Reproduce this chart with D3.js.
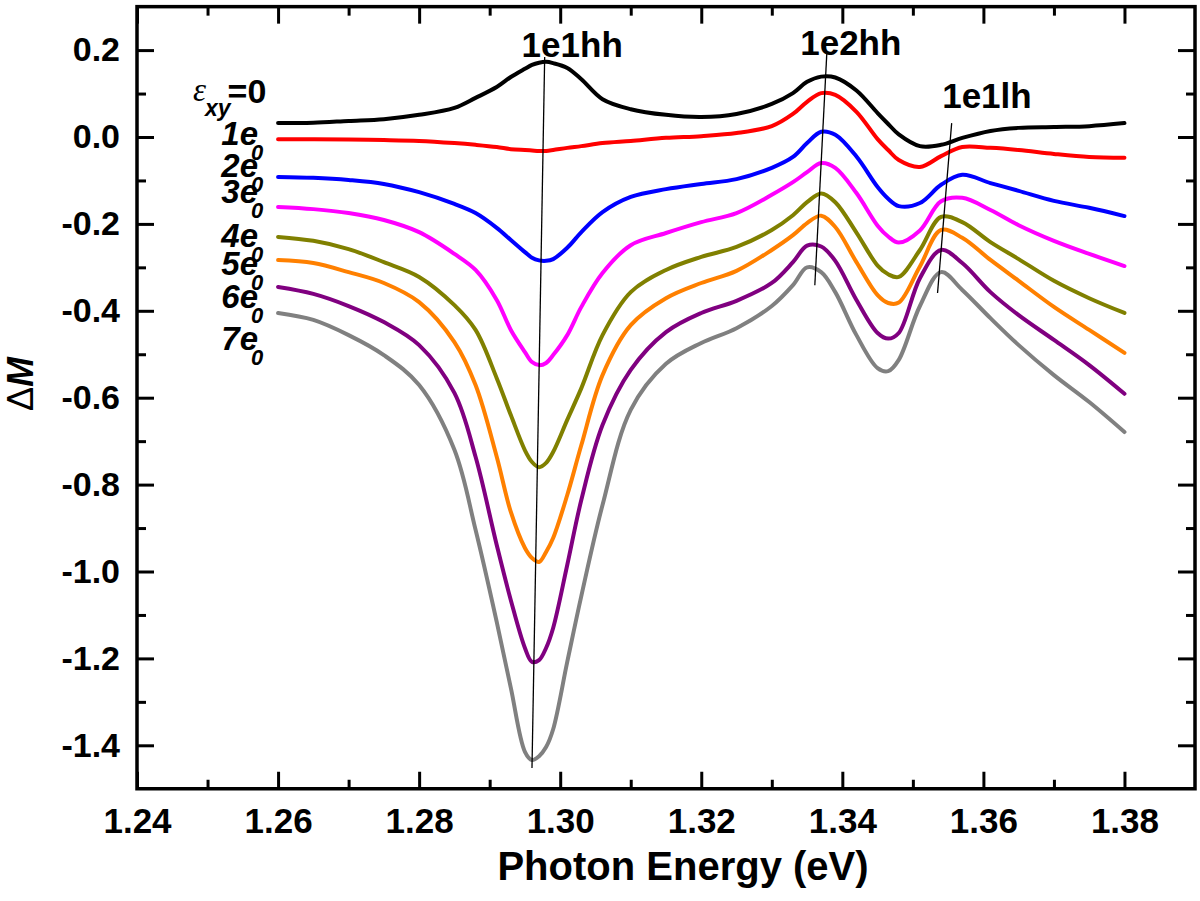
<!DOCTYPE html>
<html><head><meta charset="utf-8">
<script src="https://cdn.jsdelivr.net/npm/d3@7"></script>
<style>
body{margin:0;background:#fff}
svg{display:block}
text{font-family:"Liberation Sans",Arial,sans-serif;font-weight:bold;fill:#000}
</style></head><body>
<svg id="chart" width="1200" height="901"></svg>
<script>
// ---- data ----
const energy = [1.26,1.265,1.27,1.275,1.28,1.285,1.288,1.291,1.293,1.295,1.296,1.297,1.298,1.299,1.301,1.303,1.306,1.31,1.315,1.32,1.325,1.33,1.333,1.335,1.337,1.339,1.342,1.345,1.3465,1.348,1.351,1.354,1.357,1.361,1.365,1.37,1.375,1.38];
const dM_strain0 = [0.032,0.033,0.037,0.041,0.051,0.067,0.090,0.115,0.138,0.157,0.166,0.171,0.173,0.170,0.159,0.133,0.087,0.064,0.051,0.046,0.053,0.076,0.101,0.127,0.139,0.137,0.107,0.055,0.030,0.006,-0.021,-0.018,-0.002,0.014,0.021,0.023,0.025,0.032];
const dM_strain1 = [-0.005,-0.005,-0.006,-0.007,-0.009,-0.014,-0.018,-0.023,-0.028,-0.030,-0.031,-0.032,-0.032,-0.030,-0.025,-0.021,-0.014,-0.009,-0.002,0.002,0.009,0.025,0.053,0.081,0.101,0.097,0.058,-0.005,-0.030,-0.053,-0.069,-0.044,-0.023,-0.025,-0.030,-0.039,-0.046,-0.048];
const dM_strain2 = [-0.092,-0.094,-0.099,-0.108,-0.127,-0.154,-0.175,-0.209,-0.237,-0.265,-0.278,-0.284,-0.285,-0.281,-0.255,-0.219,-0.173,-0.138,-0.120,-0.108,-0.097,-0.071,-0.046,-0.014,0.012,0.005,-0.045,-0.115,-0.142,-0.159,-0.152,-0.110,-0.087,-0.106,-0.124,-0.147,-0.163,-0.182];
const dM_strain3 = [-0.161,-0.166,-0.175,-0.191,-0.219,-0.269,-0.306,-0.375,-0.444,-0.495,-0.518,-0.525,-0.520,-0.502,-0.456,-0.391,-0.313,-0.249,-0.221,-0.196,-0.175,-0.133,-0.104,-0.081,-0.060,-0.071,-0.129,-0.204,-0.229,-0.243,-0.215,-0.148,-0.140,-0.168,-0.203,-0.239,-0.269,-0.297];
const dM_strain4 = [-0.230,-0.239,-0.258,-0.288,-0.322,-0.387,-0.444,-0.555,-0.640,-0.721,-0.748,-0.760,-0.750,-0.725,-0.651,-0.578,-0.456,-0.357,-0.306,-0.276,-0.253,-0.214,-0.180,-0.150,-0.130,-0.150,-0.220,-0.296,-0.316,-0.322,-0.260,-0.184,-0.196,-0.242,-0.281,-0.331,-0.371,-0.405];
const dM_strain5 = [-0.283,-0.290,-0.311,-0.336,-0.380,-0.472,-0.571,-0.736,-0.863,-0.946,-0.969,-0.978,-0.955,-0.923,-0.824,-0.709,-0.548,-0.433,-0.371,-0.336,-0.308,-0.260,-0.226,-0.198,-0.181,-0.207,-0.288,-0.364,-0.382,-0.381,-0.298,-0.214,-0.232,-0.283,-0.331,-0.391,-0.444,-0.497];
const dM_strain6 = [-0.345,-0.361,-0.389,-0.426,-0.479,-0.589,-0.736,-0.939,-1.066,-1.176,-1.208,-1.204,-1.176,-1.130,-0.985,-0.835,-0.663,-0.536,-0.449,-0.405,-0.377,-0.336,-0.288,-0.250,-0.252,-0.285,-0.375,-0.451,-0.464,-0.451,-0.325,-0.260,-0.290,-0.357,-0.410,-0.467,-0.525,-0.591];
const dM_strain7 = [-0.405,-0.421,-0.456,-0.502,-0.571,-0.720,-0.904,-1.116,-1.268,-1.415,-1.434,-1.425,-1.404,-1.363,-1.208,-1.056,-0.847,-0.628,-0.522,-0.474,-0.440,-0.389,-0.341,-0.300,-0.311,-0.357,-0.456,-0.532,-0.539,-0.513,-0.389,-0.311,-0.352,-0.417,-0.479,-0.548,-0.610,-0.679];
const strainLevels = ["0","1","2","3","4","5","6","7"];
const seriesColors = ["#000000","#ff0000","#0000ff","#ff00ff","#808000","#ff8000","#800080","#808080"];
const xTickValues = [1.24,1.26,1.28,1.30,1.32,1.34,1.36,1.38];
const xMinorValues = [1.25,1.27,1.29,1.31,1.33,1.35,1.37];
const yTickValues = [-1.4,-1.2,-1.0,-0.8,-0.6,-0.4,-0.2,0.0,0.2];
const yMinorValues = [-1.3,-1.1,-0.9,-0.7,-0.5,-0.3,-0.1,0.1];
const transitionNames = ["1e1hh","1e2hh","1e1lh"];
const transitionTop = [[1.2978,0.184],[1.3378,0.193],[1.3555,0.032]];
const transitionBottom = [[1.2960,-1.452],[1.3361,-0.341],[1.3535,-0.359]];
const transitionLabelAt = [[1.3017,0.184],[1.3412,0.189],[1.3605,0.067]];

// ---- chart ----
const series = [dM_strain0,dM_strain1,dM_strain2,dM_strain3,dM_strain4,dM_strain5,dM_strain6,dM_strain7];
const svg = d3.select("#chart");
const L=137, R=1195, T=6.65, B=788.75;
const x = d3.scaleLinear().domain([1.24,1.39]).range([L,R]);
const y = d3.scaleLinear().domain([-1.5,0.3]).range([B,T]);

function styleAxis(g, fs){
  g.select(".domain").remove();
  g.selectAll(".tick line").attr("stroke","#000").attr("stroke-width",3);
  g.selectAll(".tick text").attr("font-size",fs).attr("font-family","Liberation Sans, Arial, sans-serif").attr("font-weight","bold").attr("fill","#000");
}
function addAxis(axis, tr, fs){
  const g = svg.append("g").attr("transform",tr).call(axis);
  styleAxis(g, fs);
}
addAxis(d3.axisBottom(x).tickValues(xTickValues).tickSize(-17).tickPadding(19).tickFormat(d=>d.toFixed(2)), `translate(0,${B})`, 35);
addAxis(d3.axisBottom(x).tickValues(xMinorValues).tickSize(-9).tickFormat(""), `translate(0,${B})`, 35);
addAxis(d3.axisTop(x).tickValues(xTickValues).tickSize(-17).tickFormat(""), `translate(0,${T})`, 35);
addAxis(d3.axisTop(x).tickValues(xMinorValues).tickSize(-9).tickFormat(""), `translate(0,${T})`, 35);
addAxis(d3.axisLeft(y).tickValues(yTickValues).tickSize(-17).tickPadding(17).tickFormat(d=>d.toFixed(1)), `translate(${L},0)`, 34);
addAxis(d3.axisLeft(y).tickValues(yMinorValues).tickSize(-9).tickFormat(""), `translate(${L},0)`, 34);
addAxis(d3.axisRight(y).tickValues(yTickValues).tickSize(-17).tickFormat(""), `translate(${R},0)`, 34);
addAxis(d3.axisRight(y).tickValues(yMinorValues).tickSize(-9).tickFormat(""), `translate(${R},0)`, 34);

// frame
svg.append("rect").attr("x",L).attr("y",T).attr("width",R-L).attr("height",B-T)
  .attr("fill","none").attr("stroke","#000").attr("stroke-width",3.5);

// curves
const line = d3.line().x((d,i)=>x(energy[i])).y(d=>y(d)).curve(d3.curveCatmullRom.alpha(0.5));
svg.append("g").selectAll("path").data(series).join("path")
  .attr("d",line).attr("fill","none")
  .attr("stroke",(d,i)=>seriesColors[i]).attr("stroke-width",4)
  .attr("stroke-linejoin","round").attr("stroke-linecap","round");

// transition guide lines
svg.append("g").selectAll("line").data(transitionNames).join("line")
  .attr("x1",(d,i)=>x(transitionTop[i][0])).attr("y1",(d,i)=>y(transitionTop[i][1]))
  .attr("x2",(d,i)=>x(transitionBottom[i][0])).attr("y2",(d,i)=>y(transitionBottom[i][1]))
  .attr("stroke","#000").attr("stroke-width",1.3);
svg.append("g").selectAll("text").data(transitionNames).join("text")
  .attr("x",(d,i)=>x(transitionLabelAt[i][0])).attr("y",(d,i)=>y(transitionLabelAt[i][1]))
  .attr("text-anchor","middle").attr("font-size",35).text(d=>d);

// strain labels
const lab = svg.append("g");
const eps = lab.append("text").attr("x",193).attr("y",101);
eps.append("tspan").attr("font-family","Liberation Serif, serif").attr("font-style","italic").attr("font-weight","normal").attr("font-size",33).text("ε");
eps.append("tspan").attr("font-style","italic").attr("font-size",23).attr("dy",15).attr("dx",-1).text("xy");
eps.append("tspan").attr("font-size",34).attr("dy",-13).attr("dx",-3).text("=0");
const baselines = [145,177,203,247,275,308,350];
strainLevels.slice(1).forEach((s,i)=>{
  lab.append("text").attr("x",258).attr("y",baselines[i]).attr("text-anchor","end")
    .attr("font-style","italic").attr("font-size",33).text(s+"e");
  lab.append("text").attr("x",251).attr("y",baselines[i]+15)
    .attr("font-style","italic").attr("font-size",22).text("0");
});

// axis titles
svg.append("text").attr("x",683).attr("y",880).attr("text-anchor","middle").attr("font-size",40).text("Photon Energy (eV)");
const yt = svg.append("text").attr("transform","translate(33,384) rotate(-90)").attr("text-anchor","middle").attr("font-size",36);
yt.append("tspan").attr("font-weight","normal").text("Δ");
yt.append("tspan").attr("font-style","italic").text("M");
</script>
</body></html>
